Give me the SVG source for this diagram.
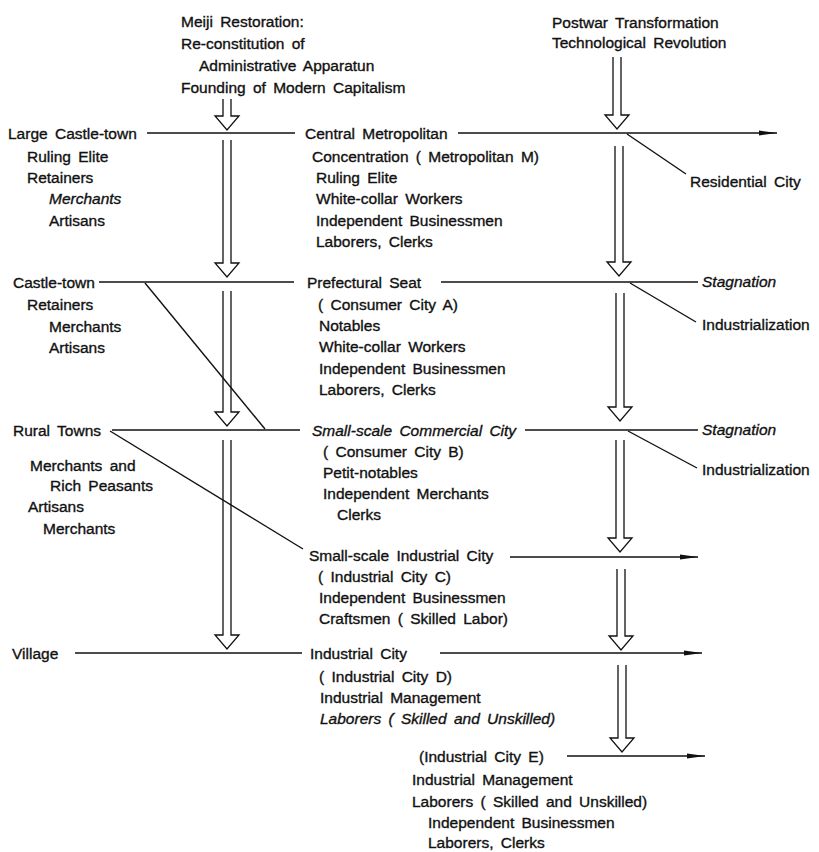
<svg xmlns="http://www.w3.org/2000/svg" width="819" height="852" viewBox="0 0 819 852">
<defs>
<style>
.t{font-family:"Liberation Sans",Arial,sans-serif;font-size:15.5px;word-spacing:3px;fill:#111;stroke:#111;stroke-width:0.35}
.i{font-style:italic}
.ln{stroke:#111;stroke-width:1.4;fill:none}
.ha{stroke:#111;stroke-width:1.3;fill:#fff}
</style>
<marker id="ah" markerUnits="userSpaceOnUse" markerWidth="18" markerHeight="6" refX="18" refY="3" orient="auto">
<path d="M0,0.6 L18,3 L0,5.4 z" fill="#111"/>
</marker>
</defs>
<rect width="819" height="852" fill="#fff"/>

<g id="connectors">
<path class="ha" d="M223 99 V116 H215 L227 130 L239 116 H231 V99"/>
<path class="ha" d="M223 140 V263 H215 L227 277 L239 263 H231 V140"/>
<path class="ha" d="M223 291 V412 H215 L227 426 L239 412 H231 V291"/>
<path class="ha" d="M223 440 V635 H215 L227 649 L239 635 H231 V440"/>
<path class="ha" d="M613 57 V115 H605 L617 129 L629 115 H621 V57"/>
<path class="ha" d="M615 146 V262 H607 L619 276 L631 262 H623 V146"/>
<path class="ha" d="M616 293 V407 H608 L620 421 L632 407 H624 V293"/>
<path class="ha" d="M616 440 V538 H608 L620 552 L632 538 H624 V440"/>
<path class="ha" d="M617 569 V636 H609 L621 650 L633 636 H625 V569"/>
<path class="ha" d="M618 665 V738 H610 L622 752 L634 738 H626 V665"/>
<line class="ln" x1="147" y1="133" x2="295" y2="133"/>
<line class="ln" x1="458" y1="133" x2="777" y2="133" marker-end="url(#ah)"/>
<line class="ln" x1="99" y1="282" x2="294" y2="282"/>
<line class="ln" x1="441" y1="282" x2="698" y2="282"/>
<line class="ln" x1="112" y1="430" x2="300" y2="430"/>
<line class="ln" x1="525" y1="430" x2="698" y2="430"/>
<line class="ln" x1="510" y1="557" x2="698" y2="557" marker-end="url(#ah)"/>
<line class="ln" x1="75" y1="653" x2="302" y2="653"/>
<line class="ln" x1="440" y1="653" x2="702" y2="653" marker-end="url(#ah)"/>
<line class="ln" x1="567" y1="756" x2="705" y2="756" marker-end="url(#ah)"/>
<line class="ln" x1="627" y1="134" x2="686" y2="174"/>
<line class="ln" x1="630" y1="283" x2="696" y2="322"/>
<line class="ln" x1="628" y1="431" x2="697" y2="468"/>
<line class="ln" x1="145" y1="283" x2="265" y2="429"/>
<line class="ln" x1="110" y1="431" x2="303" y2="549"/>
</g>

<g id="meiji">
<text class="t" x="181" y="27">Meiji Restoration:</text>
<text class="t" x="181" y="49">Re-constitution of</text>
<text class="t" x="199" y="71">Administrative Apparatun</text>
<text class="t" x="181" y="93">Founding of Modern Capitalism</text>
</g>
<g id="postwar">
<text class="t" x="552" y="28">Postwar Transformation</text>
<text class="t" x="552" y="48">Technological Revolution</text>
</g>

<g id="large-castle-town">
<text class="t" x="8" y="139">Large Castle-town</text>
<text class="t" x="27" y="162">Ruling Elite</text>
<text class="t" x="27" y="183">Retainers</text>
<text class="t i" x="49" y="204">Merchants</text>
<text class="t" x="49" y="226">Artisans</text>
</g>
<g id="castle-town">
<text class="t" x="13" y="288">Castle-town</text>
<text class="t" x="27" y="310">Retainers</text>
<text class="t" x="49" y="332">Merchants</text>
<text class="t" x="49" y="353">Artisans</text>
</g>
<g id="rural-towns">
<text class="t" x="13" y="436">Rural Towns</text>
<text class="t" x="30" y="471">Merchants and</text>
<text class="t" x="50" y="491">Rich Peasants</text>
<text class="t" x="28" y="512">Artisans</text>
<text class="t" x="43" y="534">Merchants</text>
</g>
<g id="village">
<text class="t" x="12" y="659">Village</text>
</g>

<g id="central-metropolitan">
<text class="t" x="305" y="139">Central Metropolitan</text>
<text class="t" x="312" y="162">Concentration ( Metropolitan M)</text>
<text class="t" x="316" y="183">Ruling Elite</text>
<text class="t" x="316" y="204">White-collar Workers</text>
<text class="t" x="316" y="226">Independent Businessmen</text>
<text class="t" x="316" y="247">Laborers, Clerks</text>
</g>
<g id="prefectural-seat">
<text class="t" x="307" y="288">Prefectural Seat</text>
<text class="t" x="318" y="310">( Consumer City A)</text>
<text class="t" x="319" y="331">Notables</text>
<text class="t" x="319" y="352">White-collar Workers</text>
<text class="t" x="319" y="374">Independent Businessmen</text>
<text class="t" x="319" y="395">Laborers, Clerks</text>
</g>
<g id="small-commercial">
<text class="t i" x="312" y="436">Small-scale Commercial City</text>
<text class="t" x="323" y="457">( Consumer City B)</text>
<text class="t" x="323" y="478">Petit-notables</text>
<text class="t" x="323" y="499">Independent Merchants</text>
<text class="t" x="337" y="520">Clerks</text>
</g>
<g id="small-industrial">
<text class="t" x="309" y="561">Small-scale Industrial City</text>
<text class="t" x="318" y="582">( Industrial City C)</text>
<text class="t" x="319" y="603">Independent Businessmen</text>
<text class="t" x="319" y="624">Craftsmen ( Skilled Labor)</text>
</g>
<g id="industrial-d">
<text class="t" x="310" y="659">Industrial City</text>
<text class="t" x="319" y="682">( Industrial City D)</text>
<text class="t" x="320" y="703">Industrial Management</text>
<text class="t i" x="320" y="724">Laborers ( Skilled and Unskilled)</text>
</g>
<g id="industrial-e">
<text class="t" x="419" y="762">(Industrial City E)</text>
<text class="t" x="412" y="785">Industrial Management</text>
<text class="t" x="412" y="807">Laborers ( Skilled and Unskilled)</text>
<text class="t" x="428" y="828">Independent Businessmen</text>
<text class="t" x="428" y="848">Laborers, Clerks</text>
</g>

<g id="residential-city"><text class="t" x="690" y="187">Residential City</text></g>
<g id="stagnation-a"><text class="t i" x="702" y="287">Stagnation</text></g>
<g id="industrialization-a"><text class="t" x="702" y="330">Industrialization</text></g>
<g id="stagnation-b"><text class="t i" x="702" y="435">Stagnation</text></g>
<g id="industrialization-b"><text class="t" x="702" y="475">Industrialization</text></g>
</svg>
